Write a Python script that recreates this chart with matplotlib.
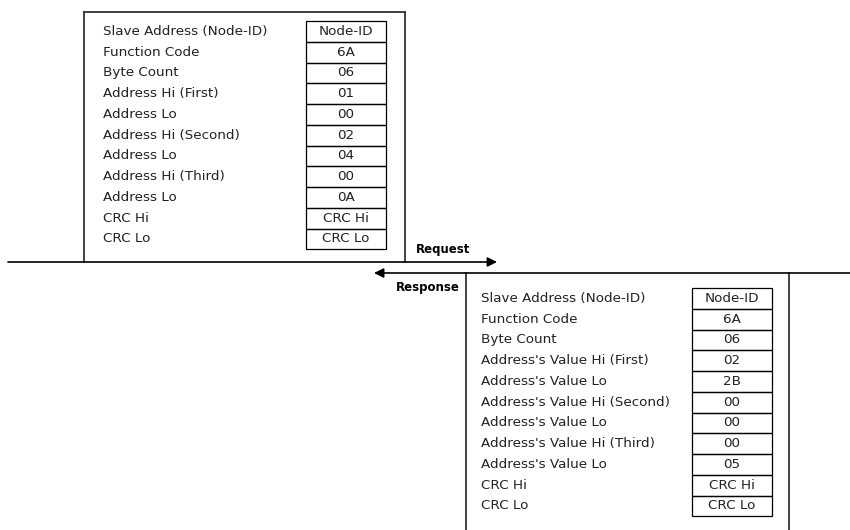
import matplotlib
matplotlib.use("Agg")
import matplotlib.pyplot as plt
from matplotlib.patches import Rectangle

plt.rcParams['font.family'] = ['DejaVu Sans']

req_labels = ["Slave Address (Node-ID)", "Function Code", "Byte Count",
              "Address Hi (First)", "Address Lo", "Address Hi (Second)",
              "Address Lo", "Address Hi (Third)", "Address Lo", "CRC Hi", "CRC Lo"]
req_values = ["Node-ID", "6A", "06", "01", "00", "02", "04", "00", "0A", "CRC Hi", "CRC Lo"]

resp_labels = ["Slave Address (Node-ID)", "Function Code", "Byte Count",
               "Address's Value Hi (First)", "Address's Value Lo",
               "Address's Value Hi (Second)", "Address's Value Lo",
               "Address's Value Hi (Third)", "Address's Value Lo", "CRC Hi", "CRC Lo"]
resp_values = ["Node-ID", "6A", "06", "02", "2B", "00", "00", "00", "05", "CRC Hi", "CRC Lo"]

fig = plt.figure(figsize=(8.5, 5.3), dpi=100)
ax = fig.add_axes([0, 0, 1, 1])
ax.set_xlim(0, 850)
ax.set_ylim(530, 0)
ax.axis('off')

LC = '#333333'
FS = 9.7

def table(labels, values, lx, cx0, cx1, top, rowh):
    for i, (lab, val) in enumerate(zip(labels, values)):
        y0 = top + i * rowh
        ax.add_patch(Rectangle((cx0, y0), cx1 - cx0, rowh, fill=False,
                               edgecolor='black', lw=0.9))
        ax.text(lx, y0 + rowh / 2, lab, fontsize=FS, va='center', ha='left', color='#222222')
        ax.text((cx0 + cx1) / 2, y0 + rowh / 2, val, fontsize=FS, va='center',
                ha='center', color='#222222')

# Request frame
ax.plot([84, 84], [12, 262], color=LC, lw=1.3)
ax.plot([84, 405], [12, 12], color=LC, lw=1.3)
ax.plot([405, 405], [12, 262], color=LC, lw=1.3)
ax.annotate('', xy=(497, 262), xytext=(8, 262),
            arrowprops=dict(arrowstyle='-|>', color='black', lw=1.2,
                            mutation_scale=14, shrinkA=0, shrinkB=0))
ax.text(443, 249, "Request", fontsize=8.5, fontweight='bold', ha='center', va='center')

table(req_labels, req_values, 103, 306, 386, 21, 20.75)

# Response frame
ax.annotate('', xy=(374, 273), xytext=(850, 273),
            arrowprops=dict(arrowstyle='-|>', color='black', lw=1.2,
                            mutation_scale=14, shrinkA=0, shrinkB=0))
ax.plot([466, 466], [273, 530], color=LC, lw=1.3)
ax.plot([789, 789], [273, 530], color=LC, lw=1.3)
ax.text(428, 287, "Response", fontsize=8.5, fontweight='bold', ha='center', va='center')

table(resp_labels, resp_values, 481, 692, 772, 288, 20.75)

fig.savefig("out.png", dpi=100)
